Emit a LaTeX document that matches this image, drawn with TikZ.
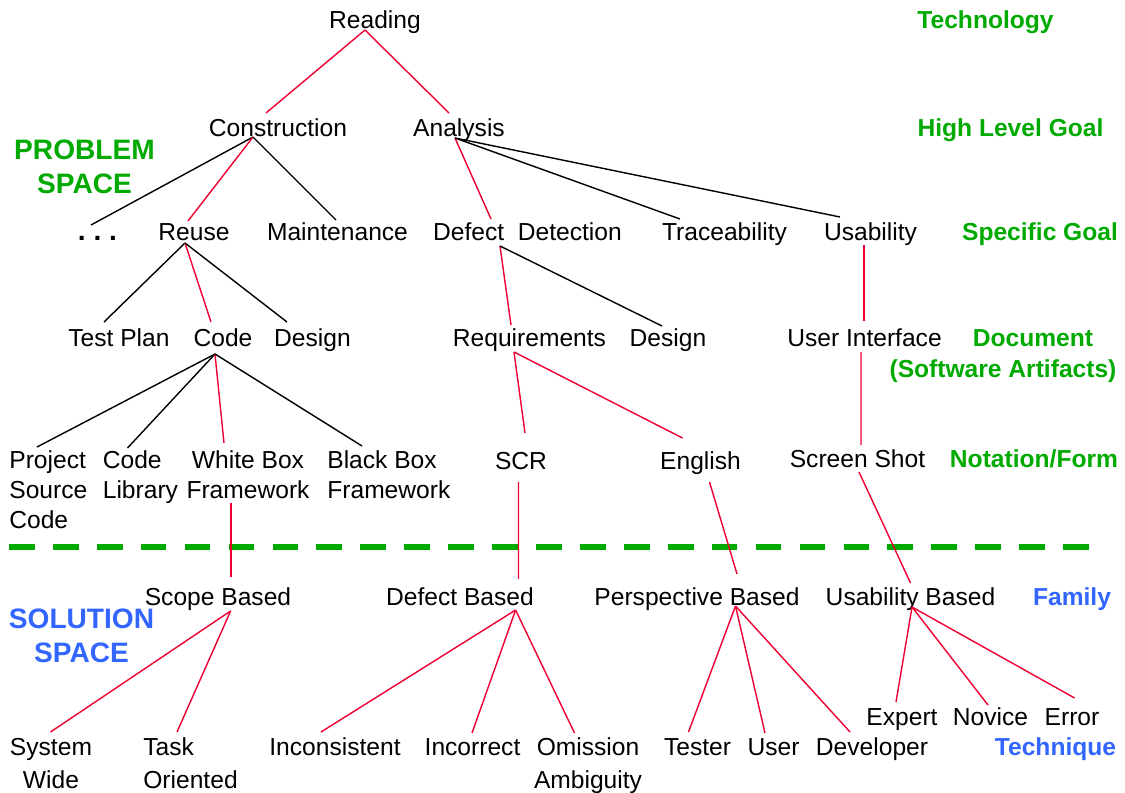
\documentclass[tikz,border=0pt]{standalone}
\usepackage{fontspec}
\setmainfont{Liberation Sans}
\definecolor{lblgreen}{RGB}{0,170,0}
\definecolor{lblblue}{RGB}{51,102,255}
\definecolor{linkred}{RGB}{238,0,50}

\begin{document}
\begin{tikzpicture}[x=0.02cm,y=-0.02cm,
    item/.style={inner sep=0,anchor=base,font=\fontsize{14}{17}\selectfont},
    lowitem/.style={item,font=\fontsize{14}{18.7}\selectfont},
    goal/.style={item,text=lblgreen,font=\fontsize{14}{17}\selectfont\bfseries},
    fam/.style={item,text=lblblue,font=\fontsize{14}{17}\selectfont\bfseries},
    space/.style={item,align=center,font=\fontsize{16}{18.9}\selectfont\bfseries},
    rl/.style={draw=linkred,line width=0.8pt},
    kl/.style={draw=black,line width=0.8pt},
    sepline/.style={draw=lblgreen,line width=3.7pt,dash pattern=on 14.6pt off 10.4pt}]
    \useasboundingbox (0,0) rectangle (1125,792);
    % problem space (multi-line nodes sit on their last line)
    \node[item](read) at (375,28) {Reading};
    \node[goal](ltech) at (985.5,28) {Technology};
    \node[item](con) at (278,136) {Construction};
    \node[item](ana) at (459,136) {Analysis};
    \node[goal](lhigh) at (1010.5,136) {High Level Goal};
    \node[space,text=lblgreen](lprob) at (84.5,193) {PROBLEM\\SPACE};
    \node[item,font=\fontsize{16}{17}\selectfont\bfseries](dots) at (97.5,240) {.\ .\ .};
    \node[item](reuse) at (194,240) {Reuse};
    \node[item](maint) at (337.5,240) {Maintenance};
    \node[item](defdet) at (527.5,240) {Defect\ \ Detection};
    \node[item](trace) at (724.5,240) {Traceability};
    \node[item](usab) at (870.5,240) {Usability};
    \node[goal](lspec) at (1040,240) {Specific Goal};
    \node[item](tplan) at (119,346) {Test Plan};
    \node[item](code) at (223,346) {Code};
    \node[item](cdesign) at (312.5,346) {Design};
    \node[item](req) at (529.5,346) {Requirements};
    \node[item](rdesign) at (668,346) {Design};
    \node[item](ui) at (864.5,346) {User Interface};
    \node[goal](ldoc) at (1033,346) {Document};
    \node[goal](ldoc2) at (1003,377) {(Software Artifacts)};
    \node[item,anchor=base west,align=left](proj) at (9,528) {Project\\Source\\Code};
    \node[item,anchor=base west,align=left](clib) at (102.5,498) {Code\\Library};
    \node[item,align=center](wbox) at (248,498) {White Box\\Framework};
    \node[item,anchor=base west,align=left](bbox) at (327,498) {Black Box\\Framework};
    \node[item](scr) at (521,469) {SCR};
    \node[item](eng) at (700.5,469) {English};
    \node[item](shot) at (857.5,467) {Screen Shot};
    \node[goal](lnot) at (1034,467) {Notation/Form};
    % border between the two spaces
    \draw[sepline] (9,547) -- (1093,547);
    % solution space
    \node[space,text=lblblue,font=\fontsize{16}{19.3}\selectfont\bfseries](lsol) at (81.5,662) {SOLUTION\\SPACE};
    \node[item](scope) at (218,605) {Scope Based};
    \node[item](defb) at (460,605) {Defect Based};
    \node[item](persp) at (697,605) {Perspective Based};
    \node[item](usb) at (910.5,605) {Usability Based};
    \node[fam](lfam) at (1072,605) {Family};
    \node[item](expert) at (902,725) {Expert};
    \node[item](novice) at (990.5,725) {Novice};
    \node[item](error) at (1072,725) {Error};
    \node[lowitem,align=center](syswide) at (51,788) {System\\Wide};
    \node[lowitem,anchor=base west,align=left](task) at (143,788) {Task\\Oriented};
    \node[item](incons) at (335,755) {Inconsistent};
    \node[item](incor) at (472.5,755) {Incorrect};
    \node[lowitem,align=center](omis) at (588,788) {Omission\\Ambiguity};
    \node[item](tester) at (697.5,755) {Tester};
    \node[item](user) at (773.5,755) {User};
    \node[item](dev) at (872,755) {Developer};
    \node[fam](ltechq) at (1055.5,755) {Technique};
    % tree links
    \draw[rl] ([shift={(-10,2)}]read.base) -- ([shift={(-12,-23)}]con.base);
    \draw[rl] ([shift={(-10,2)}]read.base) -- ([shift={(-10,-23)}]ana.base);
    \draw[kl] ([shift={(-25,1)}]con.base) -- ([shift={(-6.5,-15)}]dots.base);
    \draw[rl] ([shift={(-25,1)}]con.base) -- ([shift={(-6,-19)}]reuse.base);
    \draw[kl] ([shift={(-25,1)}]con.base) -- ([shift={(-1.5,-20)}]maint.base);
    \draw[rl] ([shift={(-4,2)}]ana.base) -- ([shift={(-36.5,-21)}]defdet.base);
    \draw[kl] ([shift={(-4,2)}]ana.base) -- ([shift={(-44.5,-21)}]trace.base);
    \draw[kl] ([shift={(-4,2)}]ana.base) -- ([shift={(-30.5,-23)}]usab.base);
    \draw[kl] ([shift={(-9,3)}]reuse.base) -- ([shift={(-15,-24)}]tplan.base);
    \draw[rl] ([shift={(-9,3)}]reuse.base) -- ([shift={(-12,-24)}]code.base);
    \draw[kl] ([shift={(-9,3)}]reuse.base) -- ([shift={(-25.5,-24)}]cdesign.base);
    \draw[rl] ([shift={(-27.5,6)}]defdet.base) -- ([shift={(-18.5,-21)}]req.base);
    \draw[kl] ([shift={(-27.5,6)}]defdet.base) -- ([shift={(-6,-20)}]rdesign.base);
    \draw[rl] ([shift={(-6.5,5)}]usab.base) -- ([shift={(-0.5,-25)}]ui.base);
    \draw[kl] ([shift={(-8,8)}]code.base) -- ([shift={(28,-81)}]proj.base west);
    \draw[kl] ([shift={(-8,8)}]code.base) -- ([shift={(25,-50)}]clib.base west);
    \draw[rl] ([shift={(-8,8)}]code.base) -- ([shift={(-24,-55)}]wbox.base);
    \draw[kl] ([shift={(-8,8)}]code.base) -- ([shift={(35,-52)}]bbox.base west);
    \draw[rl] ([shift={(-15.5,6)}]req.base) -- ([shift={(4,-36)}]scr.base);
    \draw[rl] ([shift={(-15.5,6)}]req.base) -- ([shift={(-18,-31)}]eng.base);
    \draw[rl] ([shift={(-3.5,6)}]ui.base) -- ([shift={(3.5,-22)}]shot.base);
    \draw[rl] ([shift={(-17,5)}]wbox.base) -- ([shift={(13,-28)}]scope.base);
    \draw[rl] ([shift={(-2.5,13)}]scr.base) -- ([shift={(58.5,-26)}]defb.base);
    \draw[rl] ([shift={(9,13)}]eng.base) -- ([shift={(40,-31)}]persp.base);
    \draw[rl] ([shift={(1.5,5)}]shot.base) -- ([shift={(0,-22)}]usb.base);
    \draw[rl] ([shift={(12.6,6)}]scope.base) -- ([shift={(-0.5,-56)}]syswide.base);
    \draw[rl] ([shift={(12.6,6)}]scope.base) -- ([shift={(34,-56)}]task.base west);
    \draw[rl] ([shift={(55.6,5)}]defb.base) -- ([shift={(-14,-23)}]incons.base);
    \draw[rl] ([shift={(55.6,5)}]defb.base) -- ([shift={(-0.5,-22)}]incor.base);
    \draw[rl] ([shift={(55.6,5)}]defb.base) -- ([shift={(-13.5,-55)}]omis.base);
    \draw[rl] ([shift={(38.5,1)}]persp.base) -- ([shift={(-9,-23)}]tester.base);
    \draw[rl] ([shift={(38.5,1)}]persp.base) -- ([shift={(-8.5,-22)}]user.base);
    \draw[rl] ([shift={(38.5,1)}]persp.base) -- ([shift={(-22,-23)}]dev.base);
    \draw[rl] ([shift={(1.5,2)}]usb.base) -- ([shift={(-6,-23)}]expert.base);
    \draw[rl] ([shift={(1.5,2)}]usb.base) -- ([shift={(-2.5,-20)}]novice.base);
    \draw[rl] ([shift={(1.5,2)}]usb.base) -- ([shift={(2.6,-27)}]error.base);
\end{tikzpicture}
\end{document}
